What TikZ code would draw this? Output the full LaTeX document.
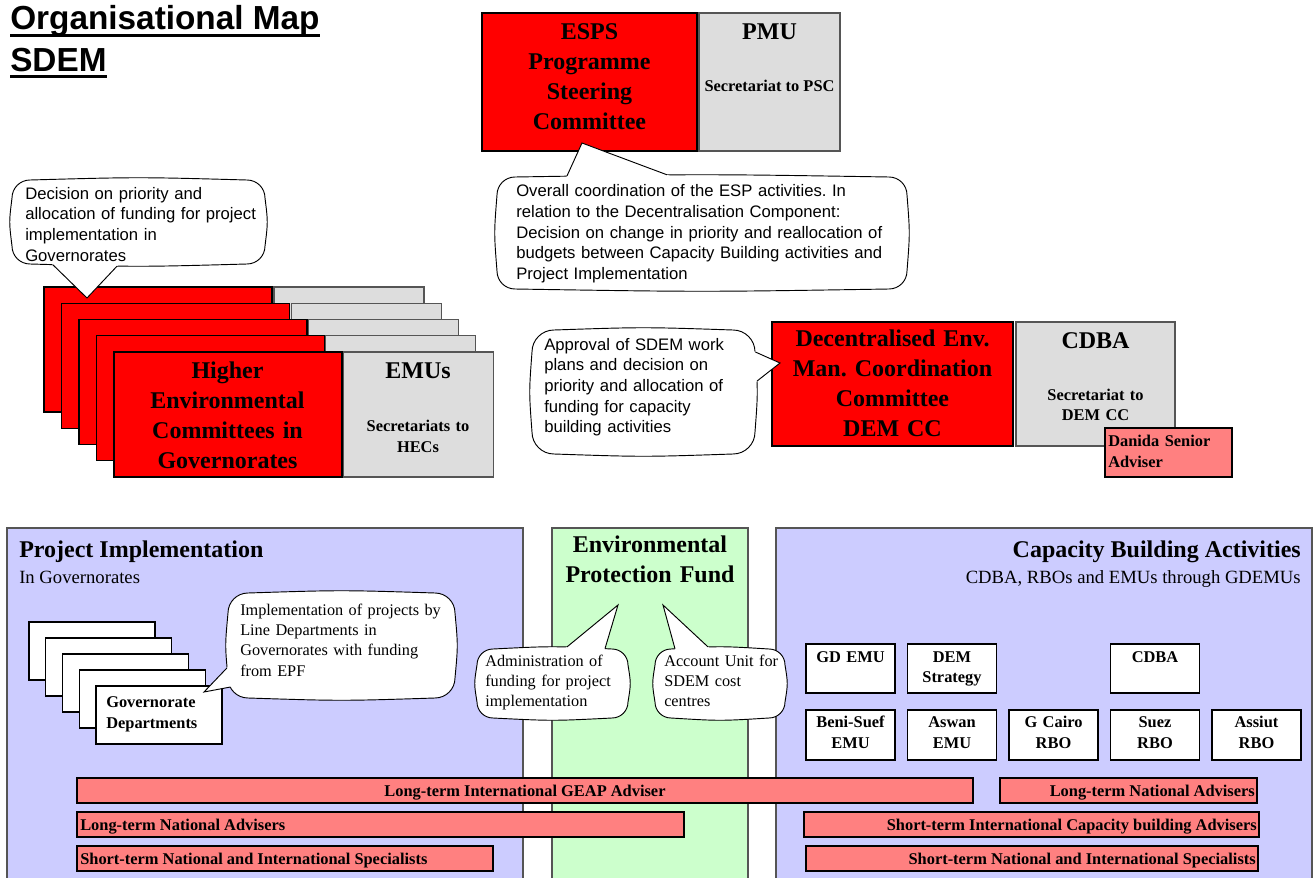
\documentclass[tikz,border=0pt]{standalone}
\usepackage{fontspec}
\setmainfont{Liberation Serif}
\newfontfamily\arialfont{Liberation Sans}
\usetikzlibrary{calc}
\frenchspacing
\definecolor{cred}{HTML}{FF0000}
\definecolor{cgrey}{HTML}{DDDDDD}
\definecolor{clred}{HTML}{FF8080}
\definecolor{clav}{HTML}{CCCCFF}
\definecolor{cgreen}{HTML}{CCFFCC}
\definecolor{cedge}{HTML}{555555}
\tikzset{
  redbox/.style={fill=cred, draw=black, line width=0.8pt},
  greybox/.style={fill=cgrey, draw=cedge, line width=0.8pt},
  whitebox/.style={fill=white, draw=black, line width=0.8pt},
  barbox/.style={fill=clred, draw=black, line width=0.8pt},
  panel/.style={draw=cedge, line width=0.8pt},
  bub/.style={fill=white, draw=black, line width=0.7pt},
  tailline/.style={draw=black, line width=0.7pt},
  hb/.style={inner sep=0pt, font=\fontsize{18}{22.5}\selectfont\bfseries},
  sb/.style={inner sep=0pt, font=\fontsize{12.3}{15.5}\selectfont\bfseries},
  cs/.style={inner sep=0pt, font=\arialfont\fontsize{12.5}{15.5}\selectfont},
  cr/.style={inner sep=0pt, font=\fontsize{12.2}{15.25}\selectfont},
  sub/.style={inner sep=0pt, font=\fontsize{14}{17}\selectfont},
  ctext/.style={anchor=base, align=center, text width=#1},
  ltext/.style={anchor=base west, align=left, text width=#1},
}
\newcommand{\bubble}[5]{%
  \draw[bub] (#1+#5,#2)
    .. controls ({(#1+#3)/2},#2-3) .. (#3-#5,#2)
    .. controls (#3-0.448*#5,#2) and (#3,#2+0.448*#5) .. (#3,#2+#5)
    .. controls (#3+3,{(#2+#4)/2}) .. (#3,#4-#5)
    .. controls (#3,#4-0.448*#5) and (#3-0.448*#5,#4) .. (#3-#5,#4)
    .. controls ({(#1+#3)/2},#4+3) .. (#1+#5,#4)
    .. controls (#1+0.448*#5,#4) and (#1,#4-0.448*#5) .. (#1,#4-#5)
    .. controls (#1-3,{(#2+#4)/2}) .. (#1,#2+#5)
    .. controls (#1,#2+0.448*#5) and (#1+0.448*#5,#2) .. (#1+#5,#2) -- cycle;}
\newcommand{\tailto}[3]{%
  \fill[white] ($(#1)!-3pt!(#2)$) -- (#2) -- ($(#3)!-3pt!(#2)$) -- cycle;
  \draw[tailline] (#1) -- (#2) -- (#3);}
\begin{document}
\begin{tikzpicture}[x=0.75pt,y=-0.75pt]
\path[use as bounding box] (0,0) rectangle (1315,878);
\clip (0,0) rectangle (1315,878);
\fill[white] (0,0) rectangle (1315,878);

% title
\node[inner sep=0pt, anchor=base west, font=\arialfont\bfseries\fontsize{25}{30}\selectfont] (title1) at (10,29) {Organisational Map};
\node[inner sep=0pt, anchor=base west, font=\arialfont\bfseries\fontsize{25}{30}\selectfont] (title2) at (10,71) {SDEM};
\draw[line width=2.2pt] ($(title1.base west)+(0,6.5)$) -- ($(title1.base east)+(0,6.5)$);
\draw[line width=2.2pt] ($(title2.base west)+(0,5.5)$) -- ($(title2.base east)+(0,5.5)$);

% ESPS / PMU
\draw[redbox] (482,13) rectangle (697,151);
\draw[greybox] (699,13) rectangle (840,151);
\node[hb, ctext=160pt] (esps) at (589.5,39.3) {ESPS\\Programme\\Steering\\Committee};
\node[hb, anchor=base] (pmu) at (769.5,39.3) {PMU};
\node[sb, anchor=base] (pmusec) at (769.5,91.7) {Secretariat to PSC};

% HEC stack
\foreach \i in {0,...,4} {
  \draw[redbox] ({44+17.5*\i},{287+16.25*\i}) rectangle ++(228,125);
  \draw[greybox] ({274+17.3*\i},{287+16.25*\i}) rectangle ++(150,125);
}
\node[hb, ctext=170pt] (hec) at (227.5,378.3) {Higher\\Environmental\\Committees in\\Governorates};
\node[hb, anchor=base] (emus) at (418,378.3) {EMUs};
\node[sb, ctext=110pt] (emusec) at (418,431.7) {Secretariats to\\HECs};

% DEM CC / CDBA
\draw[redbox] (772,322) rectangle (1013,446);
\draw[greybox] (1016,322) rectangle (1175,446);
\node[hb, ctext=180pt] (demcc) at (892.5,346.7) {Decentralised Env.\\Man. Coordination\\Committee\\DEM CC};
\node[hb, anchor=base] (cdba) at (1095.5,348.3) {CDBA};
\node[sb, ctext=110pt] (cdbasec) at (1095.5,400) {Secretariat to\\DEM CC};
\draw[barbox] (1105,428) rectangle (1232,477);
\node[sb, ltext=95pt] (danida) at (1108,446.7) {Danida Senior\\Adviser};

% top callouts
\bubble{497}{177}{907}{289}{18}
\coordinate (ta1) at (567,175.9);
\coordinate (tp1) at (582,143);
\coordinate (tb1) at (667,174.8);
\tailto{ta1}{tp1}{tb1}
\node[cs, ltext=300pt] (espsnote) at (516,196.7) {Overall coordination of the ESP activities. In\\relation to the Decentralisation Component:\\Decision on change in priority and reallocation of\\budgets between Capacity Building activities and\\Project Implementation};

\bubble{12}{180}{265}{264}{18}
\coordinate (ta2) at (53,264.9);
\coordinate (tp2) at (87,298);
\coordinate (tb2) at (117,266.2);
\tailto{ta2}{tp2}{tb2}
\node[cs, ltext=220pt] (hecnote) at (25,199.3) {Decision on priority and\\allocation of funding for project\\implementation in\\Governorates};

\bubble{532}{330}{755}{454}{22}
\coordinate (ta3) at (755.4,352);
\coordinate (tp3) at (780,363);
\coordinate (tb3) at (757.1,381);
\tailto{ta3}{tp3}{tb3}
\node[cs, ltext=200pt] (demnote) at (544,350) {Approval of SDEM work\\plans and decision on\\priority and allocation of\\funding for capacity\\building activities};

% bottom panels
\draw[panel, fill=clav] (7,528) rectangle (523,882);
\draw[panel, fill=cgreen] (552,528) rectangle (748,882);
\draw[panel, fill=clav] (776,528) rectangle (1312,882);
\node[hb, anchor=base west] (pi) at (19,557.7) {Project Implementation};
\node[sub, anchor=base west] (pisub) at (19,583.5) {In Governorates};
\node[hb, ctext=180pt] (epf) at (650,552.5) {Environmental\\Protection Fund};
\node[hb, anchor=base east] (cb) at (1301,557.7) {Capacity Building Activities};
\node[sub, anchor=base east] (cbsub) at (1301,583.5) {CDBA, RBOs and EMUs through GDEMUs};

% governorate departments stack
\foreach \i in {0,...,4} {
  \draw[whitebox] ({29+16.75*\i},{622+16*\i}) rectangle ++(126,58);
}
\node[sb, ltext=110pt] (govdep) at (106,707.5) {Governorate\\Departments};

% capacity building boxes
\foreach \i in {0,1,3} {
  \draw[whitebox] ({806+101.5*\i},644) rectangle ++(89,49);
}
\foreach \i in {0,...,4} {
  \draw[whitebox] ({806+101.5*\i},710) rectangle ++(89,50);
}
\node[sb, ctext=85pt] (gdemu) at (850.5,662) {GD EMU};
\node[sb, ctext=85pt] (demstr) at (952,662) {DEM\\Strategy};
\node[sb, ctext=85pt] (cbcdba) at (1155,662) {CDBA};
\node[sb, ctext=85pt] (benisuef) at (850.5,727.5) {Beni-Suef\\EMU};
\node[sb, ctext=85pt] (aswan) at (952,727.5) {Aswan\\EMU};
\node[sb, ctext=85pt] (gcairo) at (1053.5,727.5) {G Cairo\\RBO};
\node[sb, ctext=85pt] (suez) at (1155,727.5) {Suez\\RBO};
\node[sb, ctext=85pt] (assiut) at (1256.5,727.5) {Assiut\\RBO};

% adviser bars
\draw[barbox] (77,778) rectangle (973,803);
\node[sb, anchor=base] (geap) at (525,796) {Long-term International GEAP Adviser};
\draw[barbox] (77,812) rectangle (684,837);
\node[sb, anchor=base west] (ltnl) at (80,830) {Long-term National Advisers};
\draw[barbox] (77,846) rectangle (493,871);
\node[sb, anchor=base west] (stnl) at (80,864) {Short-term National and International Specialists};
\draw[barbox] (1000,778) rectangle (1257,803);
\node[sb, anchor=base east] (ltnr) at (1255,796) {Long-term National Advisers};
\draw[barbox] (804,812) rectangle (1259,837);
\node[sb, anchor=base east] (stir) at (1257,830) {Short-term International Capacity building Advisers};
\draw[barbox] (806,846) rectangle (1258,871);
\node[sb, anchor=base east] (stnr) at (1256,864) {Short-term National and International Specialists};

% bottom callouts
\bubble{228}{593}{455}{698}{20}
\coordinate (ta4) at (226.9,668);
\coordinate (tp4) at (204,692);
\coordinate (tb4) at (230.5,687);
\tailto{ta4}{tp4}{tb4}
\node[cr, ltext=210pt] (implnote) at (240,615) {Implementation of projects by\\Line Departments in\\Governorates with funding\\from EPF};

\bubble{477}{649}{628}{718}{16}
\coordinate (ta5) at (567,646.9);
\coordinate (tp5) at (618,605);
\coordinate (tb5) at (605,648.6);
\tailto{ta5}{tp5}{tb5}
\node[cr, ltext=140pt] (adminnote) at (485,666) {Administration of\\funding for project\\implementation};

\bubble{655}{649}{785}{718}{16}
\coordinate (ta6) at (675,648.8);
\coordinate (tp6) at (663,605);
\coordinate (tb6) at (708,646.9);
\tailto{ta6}{tp6}{tb6}
\node[cr, ltext=120pt] (acctnote) at (664,666) {Account Unit for\\SDEM cost\\centres};
\end{tikzpicture}
\end{document}
